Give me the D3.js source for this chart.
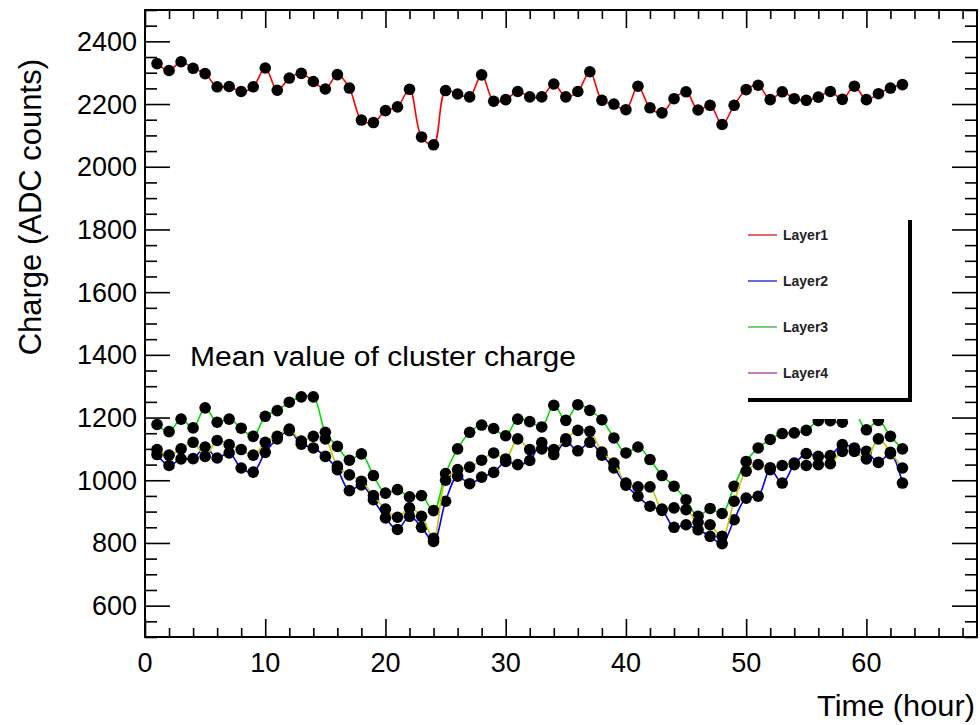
<!DOCTYPE html>
<html>
<head>
<meta charset="utf-8">
<script src="https://cdn.jsdelivr.net/npm/d3@7"></script>
<style>
  body { margin: 0; background: #fff; }
  svg { display: block; font-family: "Liberation Sans", Arial, Helvetica, sans-serif; }
</style>
</head>
<body>
<div id="chart"></div>
<script>
// hours 1..63
const hours = d3.range(1, 64);

const layer1 = [2329, 2307, 2335, 2314, 2297, 2255, 2256, 2240, 2255, 2315,
  2244, 2283, 2298, 2272, 2248, 2294, 2251, 2149, 2141, 2179,
  2191, 2247, 2095, 2070, 2243, 2232, 2223, 2293, 2209, 2214,
  2240, 2223, 2223, 2264, 2223, 2240, 2303, 2212, 2200, 2182,
  2257, 2188, 2172, 2217, 2239, 2181, 2196, 2135, 2196, 2246,
  2260, 2214, 2239, 2217, 2212, 2222, 2240, 2215, 2257, 2214,
  2233, 2251, 2262];

const layer2 = [1082, 1047, 1068, 1069, 1106, 1071, 1087, 1039, 1026, 1089,
  1132, 1158, 1115, 1103, 1076, 1034, 967, 985, 938, 880,
  843, 885, 850, 805, 933, 1013, 989, 1010, 1025, 1060,
  1050, 1063, 1120, 1082, 1124, 1094, 1121, 1080, 1039, 984,
  949, 917, 904, 850, 858, 842, 821, 798, 874, 943,
  949, 1034, 991, 1050, 1085, 1076, 1079, 1114, 1103, 1092,
  1057, 1085, 991];

const layer3 = [1178, 1155, 1195, 1167, 1231, 1185, 1195, 1166, 1140, 1204,
  1222, 1249, 1266, 1266, 1153, 1108, 1064, 1084, 1015, 959,
  970, 947, 951, 903, 1021, 1100, 1153, 1176, 1165, 1142,
  1195, 1187, 1170, 1239, 1191, 1241, 1223, 1193, 1135, 1087,
  1106, 1066, 1015, 981, 938, 885, 910, 894, 981, 1060,
  1103, 1130, 1149, 1151, 1159, 1190, 1190, 1185, 1215, 1161,
  1191, 1140, 1100];

const layer4 = [1098, 1080, 1100, 1121, 1076, 1127, 1114, 1098, 1080, 1121,
  1140, 1163, 1125, 1140, 1132, 1045, 1017, 997, 951, 908,
  882, 912, 885, 815, 1000, 1034, 1042, 1064, 1087, 1068,
  1132, 1098, 1100, 1098, 1132, 1159, 1156, 1090, 1055, 991,
  979, 979, 908, 912, 906, 866, 858, 821, 933, 1029,
  1050, 1040, 1047, 1055, 1047, 1050, 1053, 1092, 1092, 1068,
  1132, 1089, 1039];

const layerNames = ["Layer1", "Layer2", "Layer3", "Layer4"];
const lineColors = ["#ff0000", "#0000ff", "#00dd00", "#c8c800"];
const legendColors = ["#e06a6a", "#6a6ae0", "#7ad07a", "#c67ac6"];

const xTicks = [0, 10, 20, 30, 40, 50, 60];
const yTicks = [600, 800, 1000, 1200, 1400, 1600, 1800, 2000, 2200, 2400];

const width = 980, height = 725;
const frame = { left: 145, right: 977, top: 10, bottom: 637 };

const svg = d3.select("#chart").append("svg")
  .attr("width", width)
  .attr("height", height);

const x = d3.scaleLinear().domain([0, 69.2]).range([frame.left, frame.right]);
const y = d3.scaleLinear().domain([500, 2500]).range([frame.bottom, frame.top]);

// ticks, ROOT style (inside the frame, on all four sides)
const xMinor = d3.range(0, 69.2, 2).filter(v => v % 10 !== 0);
const yMinor = d3.range(500, 2501, 50).filter(v => v % 200 !== 0);

function tickGroup(axis, tx, ty) {
  const g = svg.append("g").attr("transform", `translate(${tx},${ty})`).call(axis);
  g.select(".domain").remove();
  g.selectAll("line").attr("stroke", "#000").attr("stroke-width", 1.6);
  return g;
}

tickGroup(d3.axisBottom(x).tickValues(xTicks).tickSize(-18).tickFormat(""), 0, frame.bottom);
tickGroup(d3.axisBottom(x).tickValues(xMinor).tickSize(-9).tickFormat(""), 0, frame.bottom);
tickGroup(d3.axisTop(x).tickValues(xTicks).tickSize(-18).tickFormat(""), 0, frame.top);
tickGroup(d3.axisTop(x).tickValues(xMinor).tickSize(-9).tickFormat(""), 0, frame.top);
tickGroup(d3.axisLeft(y).tickValues(yTicks).tickSize(-25).tickFormat(""), frame.left, 0);
tickGroup(d3.axisLeft(y).tickValues(yMinor).tickSize(-12).tickFormat(""), frame.left, 0);
tickGroup(d3.axisRight(y).tickValues(yTicks).tickSize(-25).tickFormat(""), frame.right, 0);
tickGroup(d3.axisRight(y).tickValues(yMinor).tickSize(-12).tickFormat(""), frame.right, 0);

// tick labels
svg.append("g").selectAll("text")
  .data(xTicks)
  .enter().append("text")
  .attr("x", d => x(d))
  .attr("y", 672)
  .attr("text-anchor", "middle")
  .style("font-size", "27px")
  .text(d => d);

svg.append("g").selectAll("text")
  .data(yTicks)
  .enter().append("text")
  .attr("x", 137)
  .attr("y", d => y(d) + 9.5)
  .attr("text-anchor", "end")
  .style("font-size", "27px")
  .text(d => d);

// frame
svg.append("rect")
  .attr("x", frame.left).attr("y", frame.top)
  .attr("width", frame.right - frame.left)
  .attr("height", frame.bottom - frame.top)
  .attr("fill", "none")
  .attr("stroke", "#000")
  .attr("stroke-width", 2);

// series: line first, then markers, one graph after the other
const allLayers = [layer1, layer2, layer3, layer4];
const line = d3.line()
  .x((d, i) => x(hours[i]))
  .y(d => y(d))
  .curve(d3.curveCatmullRom.alpha(0.5));

allLayers.forEach((vals, k) => {
  const g = svg.append("g").attr("class", "layer" + (k + 1));
  g.append("path")
    .datum(vals)
    .attr("d", line)
    .attr("fill", "none")
    .attr("stroke", lineColors[k])
    .attr("stroke-width", 1.6);
  g.selectAll("circle")
    .data(vals)
    .enter().append("circle")
    .attr("cx", (d, i) => x(hours[i]))
    .attr("cy", d => y(d))
    .attr("r", 5.8)
    .attr("fill", "#000");
});

// text label inside the plot
svg.append("text")
  .attr("x", 190)
  .attr("y", 366)
  .style("font-size", "27px")
  .attr("textLength", 386)
  .attr("lengthAdjust", "spacingAndGlyphs")
  .text("Mean value of cluster charge");

// axis titles
svg.append("text")
  .attr("transform", "translate(41,59) rotate(-90)")
  .attr("text-anchor", "end")
  .style("font-size", "31px")
  .text("Charge (ADC counts)");

svg.append("text")
  .attr("x", 975)
  .attr("y", 716)
  .attr("text-anchor", "end")
  .style("font-size", "29px")
  .attr("textLength", 158)
  .attr("lengthAdjust", "spacingAndGlyphs")
  .text("Time (hour)");

// legend (white box with a shadow on the right and bottom)
const legend = svg.append("g");
legend.append("rect")
  .attr("x", 738).attr("y", 212)
  .attr("width", 178).attr("height", 207)
  .attr("fill", "#fff");
legend.append("line")
  .attr("x1", 910).attr("x2", 910)
  .attr("y1", 220).attr("y2", 402)
  .attr("stroke", "#000").attr("stroke-width", 4);
legend.append("line")
  .attr("x1", 748).attr("x2", 912)
  .attr("y1", 400).attr("y2", 400)
  .attr("stroke", "#000").attr("stroke-width", 4);

const entries = legend.selectAll("g.entry")
  .data(layerNames)
  .enter().append("g")
  .attr("class", "entry")
  .attr("transform", (d, i) => `translate(0,${235 + i * 46})`);
entries.append("line")
  .attr("x1", 748).attr("x2", 777)
  .attr("y1", 0).attr("y2", 0)
  .attr("stroke", (d, i) => legendColors[i])
  .attr("stroke-width", 2);
entries.append("text")
  .attr("x", 783)
  .attr("y", 5)
  .style("font-size", "14px")
  .style("font-weight", "bold")
  .attr("fill", "#222")
  .text(d => d);
</script>
</body>
</html>
